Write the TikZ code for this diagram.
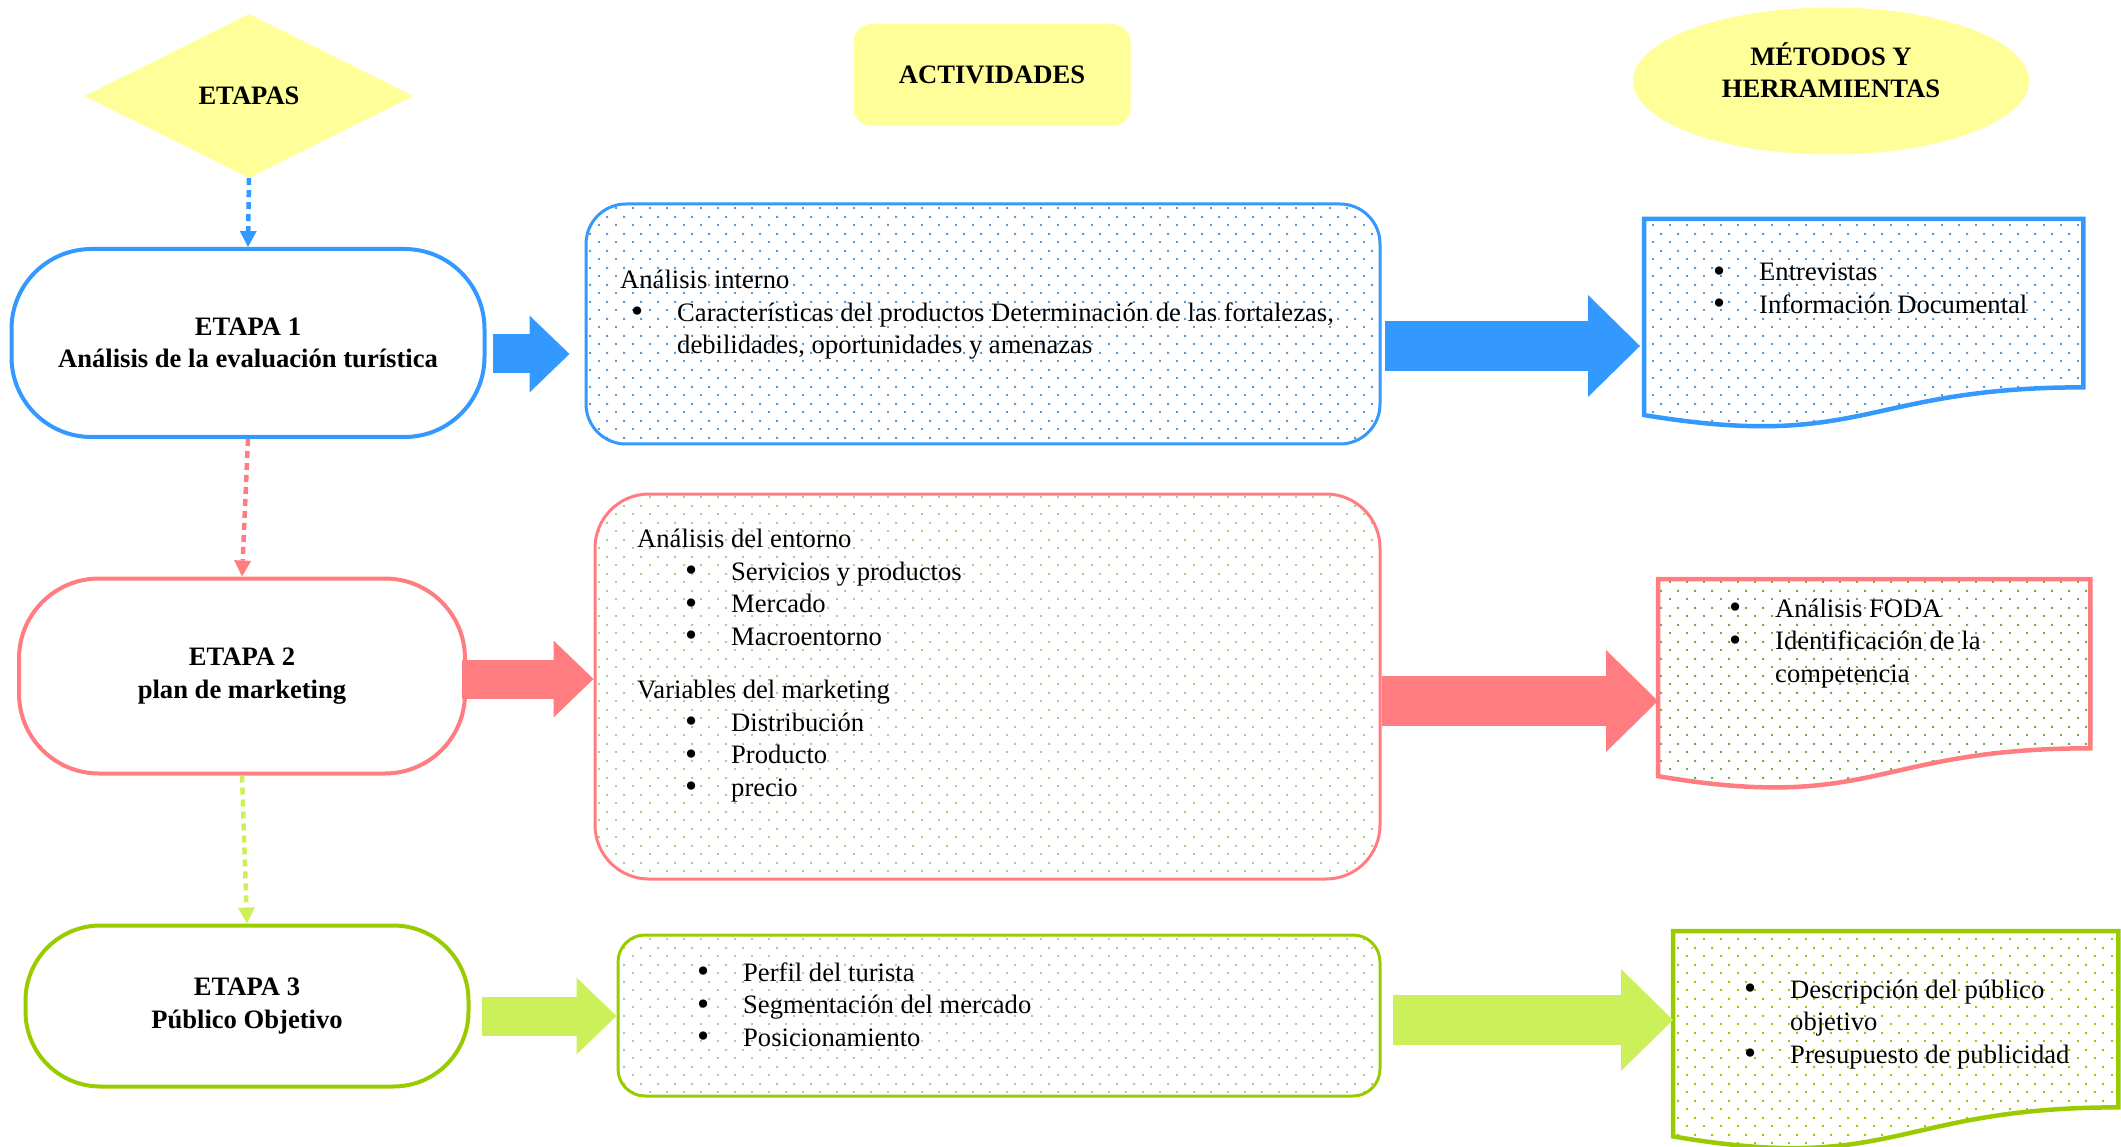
\documentclass[tikz,border=0pt]{standalone}
\usepackage{fontspec}
\usepackage{graphicx}
\setmainfont{Liberation Serif}
\usetikzlibrary{shapes.geometric,arrows.meta,patterns,calc}
\definecolor{amarillo}{HTML}{FFFF99}
\definecolor{azul}{HTML}{3399FF}
\definecolor{rosa}{HTML}{FF7C80}
\definecolor{verde}{HTML}{99CC00}
\definecolor{lima}{RGB}{204,240,90}
\definecolor{puntoazul}{HTML}{5B9BD5}
\definecolor{puntoverde}{HTML}{A9D18E}
\definecolor{puntoverdeosc}{HTML}{70AD47}
\definecolor{puntogris}{HTML}{BFBFBF}
\pgfdeclarepatternformonly{puntos}{\pgfqpoint{0pt}{0pt}}{\pgfqpoint{17pt}{17pt}}{\pgfqpoint{17pt}{17pt}}{%
  \pgfpathrectangle{\pgfqpoint{3.25pt}{3.25pt}}{\pgfqpoint{2pt}{2pt}}%
  \pgfpathrectangle{\pgfqpoint{11.75pt}{11.75pt}}{\pgfqpoint{2pt}{2pt}}%
  \pgfusepath{fill}}
\newcommand{\letra}{\fontsize{26.6}{32.5}\selectfont}
\newcommand{\itm}[1]{\makebox[46pt][l]{\raisebox{-1.5pt}{\scalebox{1.3}{\textbullet}}}#1}
\newcommand{\sangria}[1]{\hspace*{#1}}

\begin{document}
\begin{tikzpicture}[x=1pt,y=-1pt,
    every node/.style={inner sep=0pt,font=\letra},
    titulo/.style={fill=amarillo,font=\letra\bfseries,align=center},
    etapa/.style={draw=#1,line width=4pt,font=\letra\bfseries,align=center,rounded corners=80pt},
    actividad/.style={draw=#1,line width=3pt},
    texto/.style={align=left,anchor=base west},
    caja/.style={anchor=north west},
    documento/.style={insert path={(#1.north west) -- (#1.north east)
        -- ($(#1.north east)!.802!(#1.south east)$)
        .. controls ($(#1.north)!.802!(#1.south)$) and ($(#1.north)!1.1075!(#1.south)$)
        .. ($(#1.north west)!.934!(#1.south west)$) -- cycle}},
    punteada/.style={draw=#1,line width=4.5pt,dash pattern=on 7pt off 5pt,
        -{Triangle[length=16pt,width=17pt,line width=0pt]}},
    flecha/.style={draw=#1,line width=39pt,-{Triangle[length=40pt,width=77pt,line width=0pt]}},
    flechagrande/.style={draw=#1,line width=50pt,-{Triangle[length=52pt,width=102pt,line width=0pt]}}]

  \useasboundingbox (0,0) rectangle (2121,1147);

  \node[titulo,diamond,aspect=2,minimum width=329pt,minimum height=164pt] (etapas) at (249,96) {ETAPAS};
  \node[titulo,rounded corners=18pt,minimum width=277pt,minimum height=102pt] (actividades) at (992,75) {ACTIVIDADES};
  \node[titulo,ellipse,minimum width=396pt,minimum height=147pt] (metodos) at (1831,81) {};
  \node[font=\letra\bfseries,align=center] (metodostxt) at (1831,70) {MÉTODOS Y\\HERRAMIENTAS};

  \node[etapa=azul,minimum width=473pt,minimum height=188pt] (e1) at (248,343) {ETAPA 1\\Análisis de la evaluación turística};
  \node[etapa=rosa,minimum width=446pt,minimum height=195pt] (e2) at (242,676) {ETAPA 2\\plan de marketing};
  \node[etapa=verde,minimum width=443pt,minimum height=161pt,rounded corners=75pt] (e3) at (247,1006) {ETAPA 3\\Público Objetivo};

  \node[actividad=azul,rounded corners=40pt,pattern=puntos,pattern color=puntoazul,
        minimum width=794pt,minimum height=240pt] (a1) at (983,324) {};
  \node[actividad=rosa,rounded corners=54pt,pattern=puntos,pattern color=puntoverde,
        minimum width=785pt,minimum height=385pt] (a2) at (987.5,686.5) {};
  \node[actividad=verde,rounded corners=27pt,pattern=puntos,pattern color=puntogris,
        minimum width=762pt,minimum height=161pt] (a3) at (999,1015.5) {};

  \node[caja,minimum width=439pt,minimum height=209.5pt] (m1) at (1644,219) {};
  \node[caja,minimum width=432pt,minimum height=210.7pt] (m2) at (1658,579) {};
  \node[caja,minimum width=445pt,minimum height=219.5pt] (m3) at (1673,931) {};
  \draw[azul,line width=4.5pt,pattern=puntos,pattern color=puntoazul,documento=m1];
  \draw[rosa,line width=4.5pt,pattern=puntos,pattern color=puntoverdeosc,documento=m2];
  \draw[verde,line width=4.5pt,pattern=puntos,pattern color=verde,documento=m3];

  % anchor base = baseline of the last line
  \node[texto] (t1) at (620,354) {Análisis interno\\
    \sangria{11pt}\itm{Características del productos Determinación de las fortalezas,}\\
    \sangria{57pt}debilidades, oportunidades y amenazas};
  \node[texto] (t2) at (637,796) {Análisis del entorno\\
    \sangria{48pt}\itm{Servicios y productos}\\
    \sangria{48pt}\itm{Mercado}\\
    \sangria{48pt}\itm{Macroentorno}\\[21pt]
    Variables del marketing\\
    \sangria{48pt}\itm{Distribución}\\
    \sangria{48pt}\itm{Producto}\\
    \sangria{48pt}\itm{precio}};
  \node[texto] (t3) at (697,1046) {\itm{Perfil del turista}\\
    \itm{Segmentación del mercado}\\
    \itm{Posicionamiento}};
  \node[texto] (u1) at (1713,313.5) {\itm{Entrevistas}\\
    \itm{Información Documental}};
  \node[texto] (u2) at (1729,682) {\itm{Análisis FODA}\\
    \itm{Identificación de la}\\
    \sangria{46pt}competencia};
  \node[texto] (u3) at (1744,1063) {\itm{Descripción del público}\\
    \sangria{46pt}objetivo\\
    \itm{Presupuesto de publicidad}};

  \draw[punteada=azul] (etapas.south) -- (e1.north);
  \draw[punteada=rosa] (e1.south) -- (e2.north);
  \draw[punteada=lima] (e2.south) -- (e3.north);

  \coordinate (b1) at ($(e1.east)+(6,11)$);
  \coordinate (b2) at ($(e2.east)+(-5,3)$);
  \coordinate (b3) at ($(e3.east)+(11.5,10)$);
  \draw[flecha=azul,shorten >=15pt] (b1) -- (b1 -| a1.west);
  \draw[flecha=rosa] (b2) -- (b2 -| a2.west);
  \draw[flecha=lima] (b3) -- (b3 -| a3.west);

  \coordinate (c1) at ($(a1.east)+(3,22)$);
  \coordinate (c2) at ($(a2.east)+(0,14.5)$);
  \coordinate (c3) at ($(a3.east)+(11,4.5)$);
  \draw[flechagrande=azul,shorten >=4pt] (c1) -- (c1 -| m1.west);
  \draw[flechagrande=rosa] (c2) -- (c2 -| m2.west);
  \draw[flechagrande=lima] (c3) -- (c3 -| m3.west);
\end{tikzpicture}
\end{document}
